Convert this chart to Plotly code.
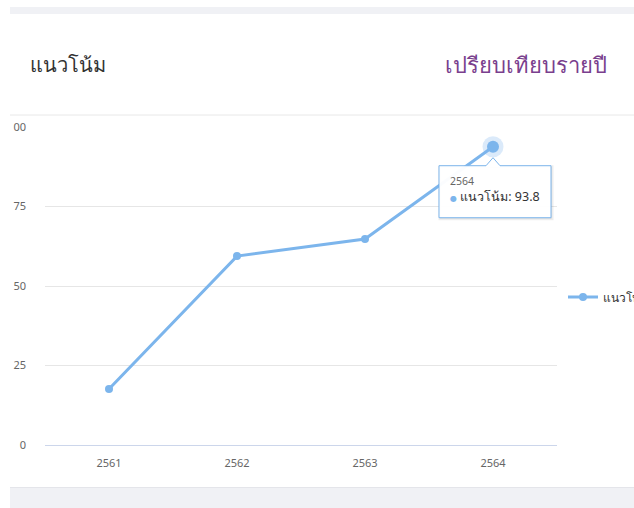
import plotly.graph_objects as go

# ---- data ----
years = ["2561", "2562", "2563", "2564"]
values = [17.6, 59.4, 64.8, 93.8]
series_name = "แนวโน้ม"
title_text = "แนวโน้ม"
subtitle_text = "เปรียบเทียบรายปี"
y_ticks = [0, 25, 50, 75, 100]
hover_index = 3

# ---- layout geometry ----
W, H = 634, 508
L, R, T, B = 45, 77, 127, 63
pw = W - L - R
ph = H - T - B


def px_x(px):
    return (px - L) / pw


def px_y(py):
    return (H - B - py) / ph


blue = "#7cb5ec"
font = "Noto Sans, DejaVu Sans, sans-serif"
page_gray = "#f0f1f5"

fig = go.Figure()
fig.add_trace(go.Scatter(
    x=years, y=values, mode="lines+markers", name=series_name,
    line=dict(color=blue, width=3), marker=dict(color=blue, size=8),
    showlegend=True,
))
fig.add_trace(go.Scatter(
    x=[years[hover_index]], y=[values[hover_index]], mode="markers",
    marker=dict(color="rgba(124,181,236,0.28)", size=21), showlegend=False,
))
fig.add_trace(go.Scatter(
    x=[years[hover_index]], y=[values[hover_index]], mode="markers",
    marker=dict(color=blue, size=12), showlegend=False,
))

tip_path = "M -54 -19 L -7 -19 L 0 -11 L 7 -19 L 58 -19 L 58 -71 L -54 -71 Z"
shadow_path = "M -53 -20 L 59 -20 L 59 -72 L -53 -72 Z"

shapes = [
    # page background bands
    dict(type="rect", xref="paper", yref="paper", x0=px_x(10), x1=px_x(640),
         y0=px_y(14), y1=px_y(7), fillcolor=page_gray, line=dict(width=0), layer="below"),
    dict(type="rect", xref="paper", yref="paper", x0=px_x(10), x1=px_x(640),
         y0=px_y(515), y1=px_y(487), fillcolor=page_gray, line=dict(width=0), layer="below"),
    dict(type="line", xref="paper", yref="paper", x0=px_x(10), x1=px_x(640),
         y0=px_y(487.5), y1=px_y(487.5), line=dict(color="#e4e5ea", width=1), layer="below"),
    # header divider
    dict(type="line", xref="paper", yref="paper", x0=px_x(10), x1=px_x(640),
         y0=px_y(115), y1=px_y(115), line=dict(color="#e8e8e8", width=1), layer="below"),
    # card left clip (hides the cut-off part of the top tick label)
    dict(type="rect", xref="paper", yref="paper", x0=px_x(-5), x1=px_x(12.5),
         y0=px_y(140), y1=px_y(118), fillcolor="white", line=dict(width=0), layer="above"),
    # tooltip shadow + box
    dict(type="path", xref="x", yref="y", xsizemode="pixel", ysizemode="pixel",
         xanchor=hover_index, yanchor=values[hover_index], path=shadow_path,
         fillcolor="rgba(0,0,0,0.06)", line=dict(color="rgba(0,0,0,0.07)", width=3), layer="above"),
    dict(type="path", xref="x", yref="y", xsizemode="pixel", ysizemode="pixel",
         xanchor=hover_index, yanchor=values[hover_index], path=tip_path,
         fillcolor="rgba(255,255,255,0.97)", line=dict(color=blue, width=1), layer="above"),
]

annotations = [
    dict(xref="paper", yref="paper", x=px_x(609), y=px_y(64), xanchor="right", yanchor="middle",
         text=subtitle_text, showarrow=False, font=dict(family=font, size=22, color="#7a3f8e")),
    dict(xref="x", yref="y", x=hover_index, y=values[hover_index], xanchor="left", yanchor="middle",
         xshift=-45, yshift=-43, align="left", showarrow=False,
         text=(f"<span style='font-size:10.5px;color:#666666'>{years[hover_index]}</span><br>"
               f"<span style='font-size:8px;color:{blue}'>●</span> {series_name}: "
               f"{values[hover_index]}"),
         font=dict(family=font, size=12.5, color="#333333")),
]

fig.update_layout(
    width=W, height=H,
    margin=dict(l=L, r=R, t=T, b=B, pad=0, autoexpand=False),
    paper_bgcolor="white", plot_bgcolor="white",
    font=dict(family=font, size=11, color="#666666"),
    title=dict(text=title_text, xref="container", yref="container",
               x=30 / W, xanchor="left", y=1 - 65 / H, yanchor="middle",
               font=dict(family=font, size=20, color="#333333")),
    xaxis=dict(type="category", range=[-0.5, len(years) - 0.5], showgrid=False,
               showline=True, linecolor="#ccd6eb", linewidth=1, ticks="",
               tickfont=dict(size=11, color="#666666"), ticklabelstandoff=8, fixedrange=True),
    yaxis=dict(range=[0, 100], tickvals=y_ticks, showgrid=True, gridcolor="#e6e6e6",
               gridwidth=1, zeroline=False, showline=False, ticks="",
               tickfont=dict(size=11, color="#666666"), ticklabelstandoff=18, fixedrange=True),
    legend=dict(orientation="h", xref="paper", yref="paper", x=px_x(563), xanchor="left",
                y=px_y(297), yanchor="middle", entrywidth=30, entrywidthmode="pixels",
                font=dict(family=font, size=12, color="#333333"), bgcolor="rgba(0,0,0,0)"),
    shapes=shapes,
    annotations=annotations,
    hovermode=False,
)

fig.write_html(
    "out.html",
    config={"displayModeBar": False},
    post_script="document.body.style.margin='0';document.body.style.overflow='hidden';",
)
